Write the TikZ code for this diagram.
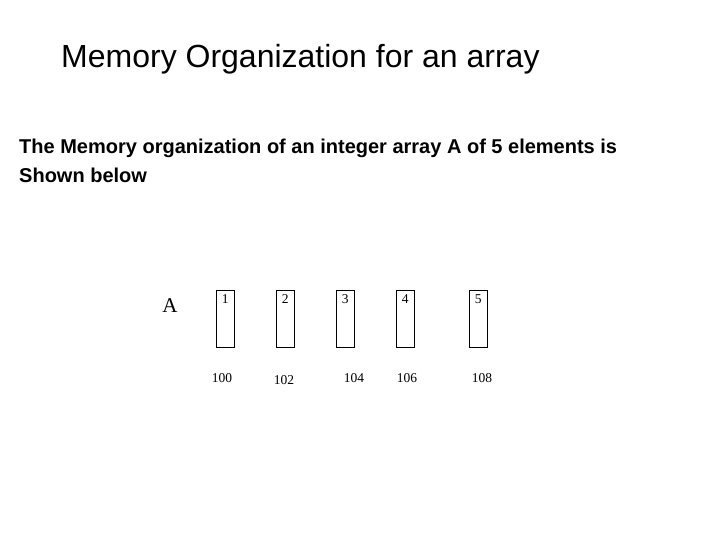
\documentclass[tikz,border=0pt]{standalone}
\usepackage{fontspec}
\setmainfont{Liberation Sans}
\newfontfamily\serif{Liberation Serif}
\begin{document}
\begin{tikzpicture}[x=1pt,y=-1pt,
  cell/.style={draw,line width=0.8pt,minimum width=18pt,minimum height=57pt,inner sep=0pt},
  num/.style={font=\serif\fontsize{13.5}{16}\selectfont,inner sep=0pt},
  addr/.style={font=\serif\fontsize{13.5}{16}\selectfont,inner sep=0pt}]
\useasboundingbox (0,0) rectangle (720,540);
\node[anchor=base west,font=\fontsize{32}{38}\selectfont,inner sep=0pt] (title) at (61,68) {Memory Organization for an array};
\node[anchor=base west,font=\bfseries\fontsize{20}{24}\selectfont,inner sep=0pt] (body) at (19,154) {The Memory organization of an integer array A of 5 elements is};
\node[anchor=base west,font=\bfseries\fontsize{20}{24}\selectfont,inner sep=0pt] (body2) at (19,183) {Shown below};
\node[font=\serif\fontsize{21}{24}\selectfont,inner sep=0pt] (A) at (170,306) {A};
\foreach \i/\x/\v/\ax/\ay in {1/225/100/222/378,2/285/102/284/380,3/345/104/354/378,4/405/106/407/378,5/478/108/482/378}{
  \node[cell] (c\i) at (\x,318.5) {};
  \node[num,anchor=north west] (n\i) at ([xshift=6pt,yshift=-5pt]c\i.north west) {\i};
  \node[addr] (a\i) at (\ax,\ay) {\v};
}
\end{tikzpicture}
\end{document}
